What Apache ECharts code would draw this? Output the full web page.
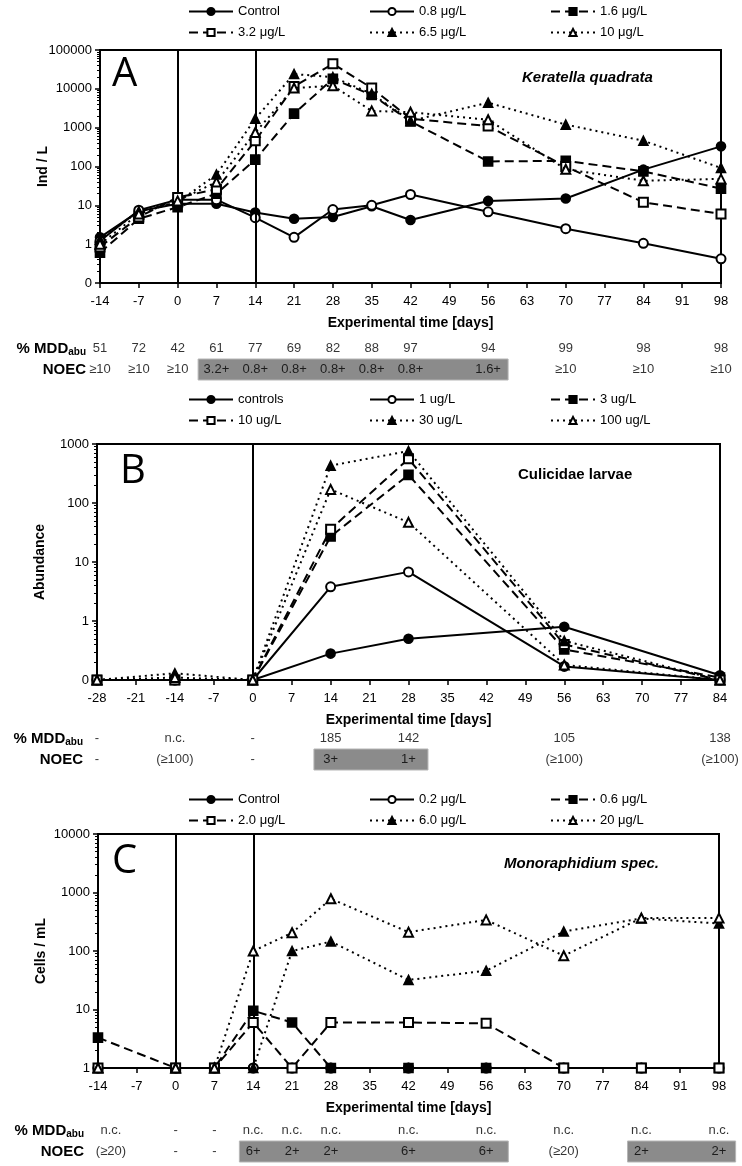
<!DOCTYPE html>
<html>
<head>
<meta charset="utf-8">
<script src="https://cdn.jsdelivr.net/npm/echarts@6/dist/echarts.min.js"></script>
<style>
html, body {margin: 0; padding: 0; background: #fff;}
#mainChart {width: 742px; height: 1166px;}
</style>
</head>
<body>
<div id="mainChart"></div>
<script>
var NARROW = "'Liberation Sans Narrow','Arial Narrow','Liberation Sans',Arial,sans-serif";
var SANS = "'Liberation Sans',Arial,sans-serif";

// ---- panel A : Keratella quadrata (Ind / L) ----
var daysA = [-14, -7, 0, 7, 14, 21, 28, 35, 42, 56, 70, 84, 98];
var namesA = ['Control', '0.8 μg/L', '1.6 μg/L', '3.2 μg/L', '6.5 μg/L', '10 μg/L'];
var controlA = [1.5, 7, 11, 11, 6.5, 4.5, 5, 9.5, 4.2, 13, 15, 83, 330];
var c08A = [1.2, 7.5, 14, 14, 4.8, 1.5, 7.8, 10, 19, 6.8, 2.5, 1.05, 0.42];
var c16A = [0.6, 4.5, 9, 20, 150, 2300, 18000, 7000, 1450, 135, 140, 75, 27];
var c32A = [0.85, 5, 16, 26, 460, 11500, 44000, 10500, 1700, 1100, 100, 12, 6];
var c65A = [1.3, 7, 12, 62, 1700, 24000, 20000, 7500, 1500, 4400, 1200, 460, 92];
var c10A = [1.0, 6, 13, 40, 750, 10500, 12000, 2700, 2500, 1600, 85, 43, 48];
var vlinesA = [0, 14];
var mddA = ['51', '72', '42', '61', '77', '69', '82', '88', '97', '94', '99', '98', '98'];
var noecA = ['≥10', '≥10', '≥10', '3.2+', '0.8+', '0.8+', '0.8+', '0.8+', '0.8+', '1.6+', '≥10', '≥10', '≥10'];
var grayA = [[3.7, 59.6]];

// ---- panel B : Culicidae larvae (Abundance) ----
var daysB = [-28, -14, 0, 14, 28, 56, 84];
var namesB = ['controls', '1 ug/L', '3 ug/L', '10 ug/L', '30 ug/L', '100 ug/L'];
var controlB = [0.1, 0.1, 0.1, 0.28, 0.5, 0.8, 0.12];
var c1B = [0.1, 0.1, 0.1, 3.8, 6.8, 0.17, 0.1];
var c3B = [0.1, 0.1, 0.1, 27, 300, 0.33, 0.11];
var c10B = [0.1, 0.1, 0.1, 36, 560, 0.4, 0.1];
var c30B = [0.1, 0.13, 0.1, 430, 760, 0.46, 0.1];
var c100B = [0.1, 0.11, 0.1, 170, 47, 0.18, 0.1];
var vlinesB = [0];
var mddB = ['-', 'n.c.', '-', '185', '142', '105', '138'];
var noecB = ['-', '(≥100)', '-', '3+', '1+', '(≥100)', '(≥100)'];
var grayB = [[11, 31.5]];

// ---- panel C : Monoraphidium spec. (Cells / mL) ----
var daysC = [-14, 0, 7, 14, 21, 28, 42, 56, 70, 84, 98];
var namesC = ['Control', '0.2 μg/L', '0.6 μg/L', '2.0 μg/L', '6.0 μg/L', '20 μg/L'];
var controlC = [1, 1, 1, 1, 1, 1, 1, 1, 1, 1, 1];
var c02C = [1, 1, 1, 1, 1, 1, 1, 1, 1, 1, 1];
var c06C = [3.3, 1, 1, 9.5, 6, 1, 1, 1, 1, 1, 1];
var c2C = [1, 1, 1, 6, 1, 6, 6, 5.8, 1, 1, 1];
var c6C = [1, 1, 1, 1, 100, 145, 32, 46, 215, 360, 295];
var c20C = [1, 1, 1, 100, 205, 780, 210, 340, 83, 365, 365];
var vlinesC = [0, 14];
var mddC = ['n.c.', '-', '-', 'n.c.', 'n.c.', 'n.c.', 'n.c.', 'n.c.', 'n.c.', 'n.c.', 'n.c.'];
var noecC = ['(≥20)', '-', '-', '6+', '2+', '2+', '6+', '6+', '(≥20)', '2+', '2+'];
var grayC = [[11.5, 60], [81.5, 101]];

// line look for the six treatments (same order in every panel)
var looks = [
    {type: 'solid', symbol: 'circle'},
    {type: 'solid', symbol: 'emptyCircle'},
    {type: [9, 5], symbol: 'rect'},
    {type: [9, 5], symbol: 'emptyRect'},
    {type: [2, 4], symbol: 'triangle'},
    {type: [2, 4], symbol: 'emptyTriangle'}
];

var series = [];

function addPanel(idx, names, days, rows, vlines) {
    for (var k = 0; k < rows.length; k++) {
        var pts = [];
        for (var i = 0; i < days.length; i++) {
            pts.push([days[i], rows[k][i]]);
        }
        var s = {
            name: names[k],
            type: 'line',
            xAxisIndex: idx,
            yAxisIndex: idx,
            data: pts,
            symbol: looks[k].symbol,
            symbolSize: 9,
            showAllSymbol: true,
            lineStyle: {color: '#000', width: 2, type: looks[k].type},
            itemStyle: {color: '#000', borderColor: '#000', borderWidth: 1.6},
            z: 3 + k
        };
        if (k === 0) {
            s.markLine = {
                silent: true,
                symbol: 'none',
                label: {show: false},
                lineStyle: {color: '#000', type: 'solid', width: 2},
                data: vlines.map(function (d) { return {xAxis: d}; })
            };
        }
        series.push(s);
    }
}

// firstShift: pixel nudge of the first column's text (panel C writes it right of the axis)
function addTable(idx, days, mdd, noec, gray, firstShift) {
    var txt = [];
    for (var i = 0; i < days.length; i++) {
        var lab = (i === 0 && firstShift) ? {label: {offset: [firstShift, 0]}} : {};
        txt.push(Object.assign({value: [days[i], 1, mdd[i]]}, lab));
        txt.push(Object.assign({value: [days[i], 0, noec[i]]}, lab));
    }
    series.push({
        type: 'custom',
        xAxisIndex: idx,
        yAxisIndex: idx,
        data: gray.map(function (g) { return [g[0], g[1], 0]; }),
        encode: {x: [0, 1], y: 2},
        renderItem: function (params, api) {
            var a = api.coord([api.value(0), api.value(2)]);
            var b = api.coord([api.value(1), api.value(2)]);
            var h = api.size([0, 1])[1];
            return {
                type: 'rect',
                shape: {x: a[0], y: a[1] - h / 2, width: b[0] - a[0], height: h},
                style: {fill: '#8b8b8b', stroke: '#b5b5b5', lineWidth: 1}
            };
        },
        z: 1
    });
    series.push({
        type: 'scatter',
        xAxisIndex: idx,
        yAxisIndex: idx,
        data: txt,
        symbolSize: 1,
        itemStyle: {color: 'rgba(0,0,0,0)'},
        label: {
            show: true,
            position: 'inside',
            color: '#000',
            fontSize: 13,
            fontFamily: NARROW,
            formatter: function (p) { return p.value[2]; }
        },
        z: 5
    });
}

addPanel(0, namesA, daysA, [controlA, c08A, c16A, c32A, c65A, c10A], vlinesA);
addPanel(1, namesB, daysB, [controlB, c1B, c3B, c10B, c30B, c100B], vlinesB);
addPanel(2, namesC, daysC, [controlC, c02C, c06C, c2C, c6C, c20C], vlinesC);
addTable(3, daysA, mddA, noecA, grayA, 0);
addTable(4, daysB, mddB, noecB, grayB, 0);
addTable(5, daysC, mddC, noecC, grayC, 13);

var panels = [
    {left: 100, top: 50, width: 621, height: 233, min: -14, max: 98, ymin: 0.1, ymax: 100000, yname: 'Ind / L'},
    {left: 97, top: 444, width: 623, height: 236, min: -28, max: 84, ymin: 0.1, ymax: 1000, yname: 'Abundance'},
    {left: 98, top: 834, width: 621, height: 234, min: -14, max: 98, ymin: 1, ymax: 10000, yname: 'Cells / mL'}
];
var tableTops = [338, 728, 1120];

var grids = [], xAxes = [], yAxes = [];
panels.forEach(function (p) {
    grids.push({left: p.left, top: p.top, width: p.width, height: p.height,
        show: true, borderColor: '#000', borderWidth: 2, backgroundColor: '#fff'});
    xAxes.push({
        type: 'value', gridIndex: grids.length - 1, min: p.min, max: p.max, interval: 7,
        name: 'Experimental time [days]', nameLocation: 'middle', nameGap: 33,
        nameMoveOverlap: false,
        nameTextStyle: {fontSize: 14, fontWeight: 'bold', fontFamily: NARROW, color: '#000'},
        axisLine: {onZero: false, lineStyle: {color: '#000', width: 2}},
        axisTick: {show: true, length: 5, lineStyle: {color: '#000', width: 1.5}},
        axisLabel: {fontSize: 13, fontFamily: NARROW, color: '#000', margin: 12},
        splitLine: {show: false}
    });
    yAxes.push({
        type: 'log', logBase: 10, gridIndex: grids.length - 1, min: p.ymin, max: p.ymax,
        name: p.yname, nameLocation: 'middle', nameGap: 50,
        nameMoveOverlap: false,
        nameTextStyle: {fontSize: 14, fontWeight: 'bold', fontFamily: SANS, color: '#000'},
        axisLine: {show: true, onZero: false, lineStyle: {color: '#000', width: 2}},
        axisTick: {show: true, length: 5, lineStyle: {color: '#000', width: 1.5}},
        minorTick: {show: true, splitNumber: 9, length: 3, lineStyle: {color: '#000', width: 1}},
        axisLabel: {
            fontSize: 13, fontFamily: NARROW, color: '#000', margin: 8,
            formatter: function (v) { return v < 0.5 ? '0' : String(Math.round(v)); }
        },
        splitLine: {show: false}
    });
});
panels.forEach(function (p, i) {
    grids.push({left: p.left, top: tableTops[i], width: p.width, height: 42});
    xAxes.push({type: 'value', gridIndex: grids.length - 1, min: p.min, max: p.max, show: false});
    yAxes.push({
        type: 'category', gridIndex: grids.length - 1, data: ['NOEC', '% MDD'],
        axisLine: {show: false}, axisTick: {show: false},
        axisLabel: {
            margin: 14,
            formatter: function (v) { return v === 'NOEC' ? '{a|NOEC}' : '{a|% MDD}{b|abu}'; },
            rich: {
                a: {fontSize: 15, fontWeight: 'bold', fontFamily: NARROW, color: '#000', lineHeight: 18},
                b: {fontSize: 10, fontWeight: 'bold', fontFamily: NARROW, color: '#000', verticalAlign: 'bottom', lineHeight: 12}
            }
        }
    });
});

// legends: three columns of two rows per panel
var legendCols = [183, 364, 545];
var legendTops = [0, 388, 788];
var allNames = [namesA, namesB, namesC];
var legends = [];
for (var pnl = 0; pnl < 3; pnl++) {
    for (var c = 0; c < 3; c++) {
        legends.push({
            orient: 'vertical', left: legendCols[c], top: legendTops[pnl],
            data: [allNames[pnl][c], allNames[pnl][c + 3]],
            itemWidth: 44, itemHeight: 9, itemGap: 8,
            selectedMode: false,
            textStyle: {fontSize: 13, fontFamily: NARROW, color: '#000', padding: [0, 0, 0, 0]}
        });
    }
}

var letterStyle = {fontSize: 40, fontWeight: 'normal', fontFamily: "'Open Sans','Noto Sans',sans-serif", color: '#000'};
var speciesStyle = {fontSize: 15, fontWeight: 'bold', fontFamily: SANS, color: '#000'};
var titles = [
    {text: 'A', left: 112, top: 55, textStyle: letterStyle},
    {text: 'B', left: 120, top: 452, textStyle: letterStyle},
    {text: 'C', left: 112, top: 842, textStyle: letterStyle},
    {text: 'Keratella quadrata', left: 522, top: 70, textStyle: Object.assign({fontStyle: 'italic'}, speciesStyle)},
    {text: 'Culicidae larvae', left: 518, top: 467, textStyle: speciesStyle},
    {text: 'Monoraphidium spec.', left: 504, top: 856, textStyle: Object.assign({fontStyle: 'italic'}, speciesStyle)}
];
titles.forEach(function (t) { t.padding = 0; });

var myChart = echarts.init(document.getElementById('mainChart'));
myChart.setOption({
    animation: false,
    backgroundColor: '#fff',
    title: titles,
    legend: legends,
    grid: grids,
    xAxis: xAxes,
    yAxis: yAxes,
    series: series
});
</script>
</body>
</html>
